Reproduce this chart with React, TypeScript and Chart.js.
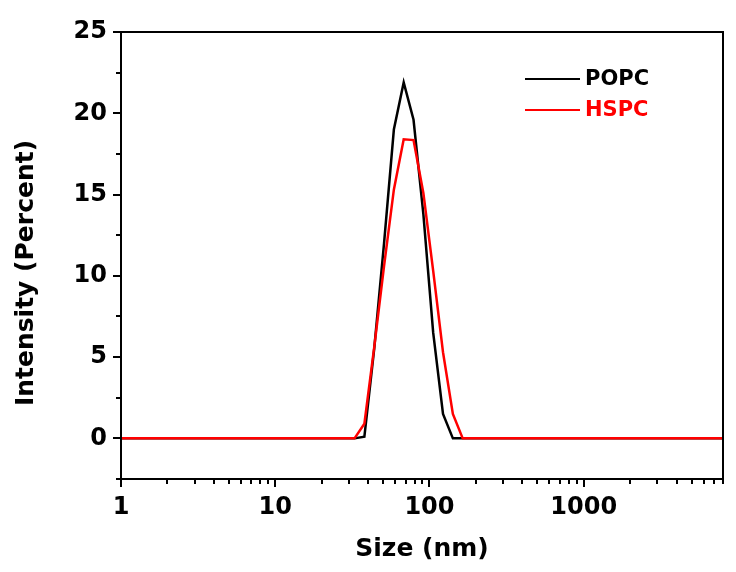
import React, { useEffect, useRef } from 'react';
import { Chart, registerables } from 'chart.js';

Chart.register(...registerables);

// Size bins (nm)
const sizes = [
  0.9649, 1.117, 1.294, 1.499, 1.736, 2.01, 2.328, 2.696, 3.122, 3.615,
  4.187, 4.849, 5.615, 6.503, 7.531, 8.721, 10.1, 11.7, 13.54, 15.69,
  18.17, 21.04, 24.36, 28.21, 32.67, 37.84, 43.82, 50.75, 58.77, 68.06,
  78.82, 91.28, 105.7, 122.4, 141.8, 164.2, 190.1, 220.2, 255.0, 295.3,
  342.0, 396.1, 458.7, 531.2, 615.1, 712.4, 825.0, 955.4, 1106, 1281,
  1484, 1718, 1990, 2305, 2669, 3091, 3580, 4145, 4801, 5560,
  6439, 7456, 8635,
];

// Intensity (%)
const popc = [
  0, 0, 0, 0, 0, 0, 0, 0, 0, 0,
  0, 0, 0, 0, 0, 0, 0, 0, 0, 0,
  0, 0, 0, 0, 0, 0.1, 5.5, 12.0, 19.0, 21.9,
  19.6, 13.8, 6.5, 1.5, 0, 0, 0, 0, 0, 0,
  0, 0, 0, 0, 0, 0, 0, 0, 0, 0,
  0, 0, 0, 0, 0, 0, 0, 0, 0, 0,
  0, 0, 0,
];

const hspc = [
  0, 0, 0, 0, 0, 0, 0, 0, 0, 0,
  0, 0, 0, 0, 0, 0, 0, 0, 0, 0,
  0, 0, 0, 0, 0, 0.9, 5.6, 10.6, 15.3, 18.4,
  18.35, 15.1, 10.3, 5.3, 1.5, 0, 0, 0, 0, 0,
  0, 0, 0, 0, 0, 0, 0, 0, 0, 0,
  0, 0, 0, 0, 0, 0, 0, 0, 0, 0,
  0, 0, 0,
];

const seriesNames = ['POPC', 'HSPC'];
const seriesColors = ['#000000', '#ff0000'];

const xMin = 1;
const xMax = 8000;
const xMajorTicks = [1, 10, 100, 1000];
const xTickLabels = ['1', '10', '100', '1000'];
const xMinorMultipliers = [2, 3, 4, 5, 6, 7, 8, 9];

const yMin = -2.5;
const yMax = 25;
const yMajorTicks = [0, 5, 10, 15, 20, 25];
const yTickLabels = ['0', '5', '10', '15', '20', '25'];
const yMinorTicks = [-2.5, 2.5, 7.5, 12.5, 17.5, 22.5];

const xTitle = 'Size (nm)';
const yTitle = 'Intensity (Percent)';

const FONT = "'DejaVu Sans', sans-serif";

const framePlugin = {
  id: 'frameAndDecor',
  afterDraw(chart: any) {
    const { ctx, chartArea: a, scales } = chart;
    const xs = scales.x;
    const ys = scales.y;
    ctx.save();
    ctx.strokeStyle = '#000';
    ctx.lineWidth = 2;
    ctx.strokeRect(a.left, a.top, a.right - a.left, a.bottom - a.top);

    ctx.beginPath();
    xMajorTicks.forEach((v) => {
      const px = Math.round(xs.getPixelForValue(v));
      ctx.moveTo(px, a.bottom);
      ctx.lineTo(px, a.bottom + 8);
    });
    xMajorTicks.forEach((d) => {
      xMinorMultipliers.forEach((m) => {
        const v = d * m;
        if (v > xMax) return;
        const px = Math.round(xs.getPixelForValue(v));
        ctx.moveTo(px, a.bottom);
        ctx.lineTo(px, a.bottom + 5);
      });
    });
    yMajorTicks.forEach((v) => {
      const py = Math.round(ys.getPixelForValue(v));
      ctx.moveTo(a.left, py);
      ctx.lineTo(a.left - 8, py);
    });
    yMinorTicks.forEach((v) => {
      const py = Math.round(ys.getPixelForValue(v));
      ctx.moveTo(a.left, py);
      ctx.lineTo(a.left - 5, py);
    });
    ctx.stroke();

    // axis titles
    ctx.fillStyle = '#000';
    ctx.font = `bold 25px ${FONT}`;
    ctx.textAlign = 'center';
    ctx.textBaseline = 'middle';
    ctx.fillText(xTitle, (a.left + a.right) / 2, 549);
    ctx.save();
    ctx.translate(26, 273);
    ctx.rotate(-Math.PI / 2);
    ctx.fillText(yTitle, 0, 0);
    ctx.restore();

    // legend
    ctx.font = `bold 21px ${FONT}`;
    ctx.textAlign = 'left';
    ctx.textBaseline = 'middle';
    const rows = [79, 110];
    seriesNames.forEach((name, i) => {
      const y = rows[i];
      ctx.strokeStyle = seriesColors[i];
      ctx.lineWidth = 2;
      ctx.beginPath();
      ctx.moveTo(525, y);
      ctx.lineTo(580, y);
      ctx.stroke();
      ctx.fillStyle = seriesColors[i];
      ctx.fillText(name, 585, y + 1);
    });
    ctx.restore();
  },
};

export default function App() {
  const canvasRef = useRef<HTMLCanvasElement | null>(null);

  useEffect(() => {
    document.body.style.margin = '0';
    const canvas = canvasRef.current;
    if (!canvas) return;
    const chart = new Chart(canvas, {
      type: 'line',
      data: {
        datasets: [
          {
            label: seriesNames[0],
            data: sizes.map((s, i) => ({ x: s, y: popc[i] })),
            borderColor: seriesColors[0],
            backgroundColor: seriesColors[0],
            borderWidth: 2.5,
            pointRadius: 0,
            tension: 0,
            order: 2,
          },
          {
            label: seriesNames[1],
            data: sizes.map((s, i) => ({ x: s, y: hspc[i] })),
            borderColor: seriesColors[1],
            backgroundColor: seriesColors[1],
            borderWidth: 2.5,
            pointRadius: 0,
            tension: 0,
            order: 1,
          },
        ],
      },
      options: {
        animation: false,
        responsive: false,
        maintainAspectRatio: false,
        devicePixelRatio: 1,
        layout: { padding: { left: 0, right: 13, top: 32, bottom: 0 } },
        plugins: {
          legend: { display: false },
          tooltip: { enabled: false },
          title: { display: false },
        },
        scales: {
          x: {
            type: 'logarithmic',
            position: 'bottom',
            min: xMin,
            max: xMax,
            afterBuildTicks: (scale: any) => {
              scale.ticks = xMajorTicks.map((v) => ({ value: v, major: true }));
            },
            afterFit: (scale: any) => {
              scale.height = 93;
            },
            grid: { display: false, drawTicks: false, tickLength: 0 },
            border: { display: false },
            ticks: {
              autoSkip: false,
              maxRotation: 0,
              minRotation: 0,
              padding: 14,
              color: '#000',
              font: { family: FONT, size: 24, weight: 'bold' },
              callback: (_v: any, i: number) => xTickLabels[i],
            },
          },
          y: {
            type: 'linear',
            position: 'left',
            min: yMin,
            max: yMax,
            afterBuildTicks: (scale: any) => {
              scale.ticks = yMajorTicks.map((v) => ({ value: v }));
            },
            afterFit: (scale: any) => {
              scale.width = 121;
            },
            grid: { display: false, drawTicks: false, tickLength: 0 },
            border: { display: false },
            ticks: {
              autoSkip: false,
              padding: 14,
              color: '#000',
              font: { family: FONT, size: 24, weight: 'bold' },
              callback: (_v: any, i: number) => yTickLabels[i],
            },
          },
        },
      } as any,
      plugins: [framePlugin],
    });
    return () => chart.destroy();
  }, []);

  return (
    <div style={{ width: 736, height: 572, background: '#fff' }}>
      <canvas ref={canvasRef} width={736} height={572} style={{ display: 'block' }} />
    </div>
  );
}
